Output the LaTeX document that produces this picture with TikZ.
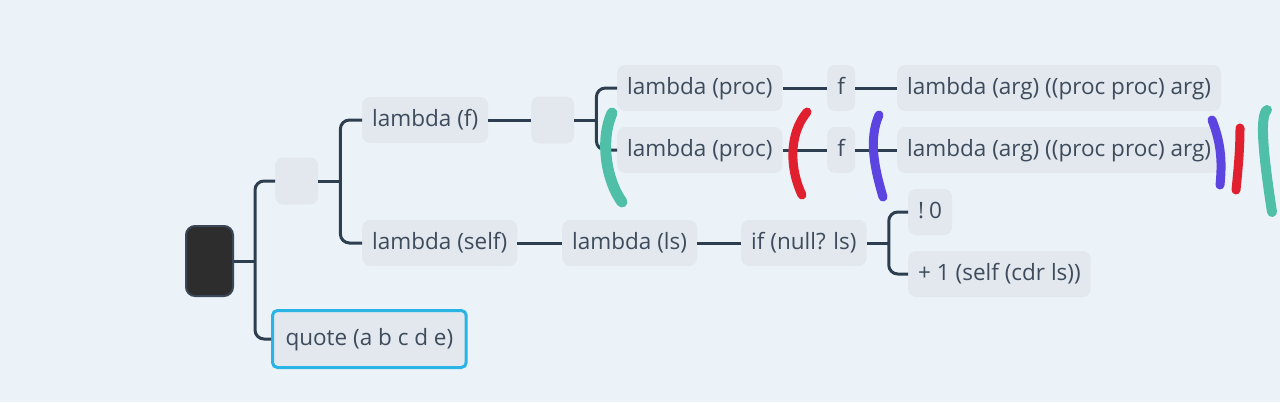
\documentclass[tikz,border=0pt]{standalone}
\usepackage{fontspec}
\setmainfont{Open Sans}
\usepackage{xcolor}
\definecolor{bgblue}{HTML}{ECF3F8}
\definecolor{nodegray}{HTML}{E2E8ED}
\definecolor{textgray}{HTML}{3D4B5C}
\definecolor{linkdark}{HTML}{2C3E50}
\definecolor{rootdark}{HTML}{2D2D2D}
\definecolor{rootedge}{HTML}{3B4756}
\definecolor{quoteblue}{HTML}{2AB4E6}
\definecolor{penteal}{HTML}{4FBFA8}
\definecolor{penred}{HTML}{E0202E}
\definecolor{penpurple}{HTML}{5B44E0}

\begin{document}
\begin{tikzpicture}[x=1pt,y=-1pt,
    topic/.style={rounded corners=8pt, fill=nodegray, text=textgray,
      minimum height=46pt, inner xsep=10pt, anchor=west,
      text height=16pt, text depth=3pt,
      font=\fontsize{22.5}{26}\selectfont},
    blank/.style={topic, minimum width=43pt, minimum height=47pt},
    link/.style={line width=3pt, draw=linkdark},
    branch/.style={link, rounded corners=9pt},
    pen/.style={line width=10pt, line cap=round}]
  % Background
  \fill[bgblue] (0,0) rectangle (1280,402);
  % Root and first level
  \node[draw=rootedge, line width=2pt, fill=rootdark, rounded corners=9pt,
    minimum width=47pt, minimum height=70pt] (root) at (209.5,261) {};
  \node[blank] (blankA) at (275,181) {};
  \node[topic, draw=quoteblue, line width=3pt, rounded corners=5pt,
    minimum height=57pt, inner xsep=13pt] (quote) at (271,339) {quote (a b c d e)};
  \draw[link] (root.east) -- ++(21,0) coordinate (trunkA);
  \draw[branch] (trunkA) |- (blankA.west);
  \draw[branch] (trunkA) |- (quote.west);
  % Second level
  \node[topic] (lamf) at (362,120) {lambda (f)};
  \node[topic] (lamself) at (362,243) {lambda (self)};
  \draw[link] (blankA.east) -- ++(22,0) coordinate (trunkB);
  \draw[branch] (trunkB) |- (lamf.west);
  \draw[branch] (trunkB) |- (lamself.west);
  % Upper branch
  \node[blank] (blankB) at (531,120) {};
  \draw[link] (lamf) -- (blankB);
  \draw[link] (blankB.east) -- ++(22,0) coordinate (trunkC);
  \foreach \r/\y in {a/88,b/150} {
    \node[topic] (proc\r) at (617,\y) {lambda (proc)};
    \node[topic, minimum width=28pt] (f\r) at (827,\y) {f};
    \node[topic] (arg\r) at (897,\y) {lambda (arg) ((proc proc) arg)};
    \draw[branch] (trunkC) |- (proc\r.west);
    \draw[link] (proc\r) -- (f\r);
    \draw[link] (f\r) -- (arg\r);
  }
  % Lower branch
  \node[topic] (lamls) at (562,243) {lambda (ls)};
  \node[topic] (ifnull) at (741,243) {if (null? ls)};
  \node[topic] (zero) at (908,212) {!\kern5pt0};
  \node[topic] (plusone) at (908,274) {+ 1 (self (cdr ls))};
  \draw[link] (lamself) -- (lamls);
  \draw[link] (lamls) -- (ifnull);
  \draw[link] (ifnull.east) -- ++(22,0) coordinate (trunkD);
  \draw[branch] (trunkD) |- (zero.west);
  \draw[branch] (trunkD) |- (plusone.west);
  % Hand-drawn brackets
  \draw[pen, penteal, line width=11pt] (612,113) .. controls (600,140) and (606,180) .. (622,202);
  \draw[pen, penred, line width=9pt] (807,112) .. controls (788,135) and (790,170) .. (802,195);
  \draw[pen, penpurple, line width=9pt] (879,115) .. controls (868,140) and (875,170) .. (883,197);
  \draw[pen, penpurple, line width=9pt] (1212,120) .. controls (1222,145) and (1222,165) .. (1220,185);
  \draw[pen, penred, line width=9pt] (1240,128) .. controls (1240,150) and (1238,170) .. (1236,190);
  \draw[pen, penteal] (1267,110) .. controls (1259,116) and (1264,160) .. (1272,212);
\end{tikzpicture}
\end{document}
